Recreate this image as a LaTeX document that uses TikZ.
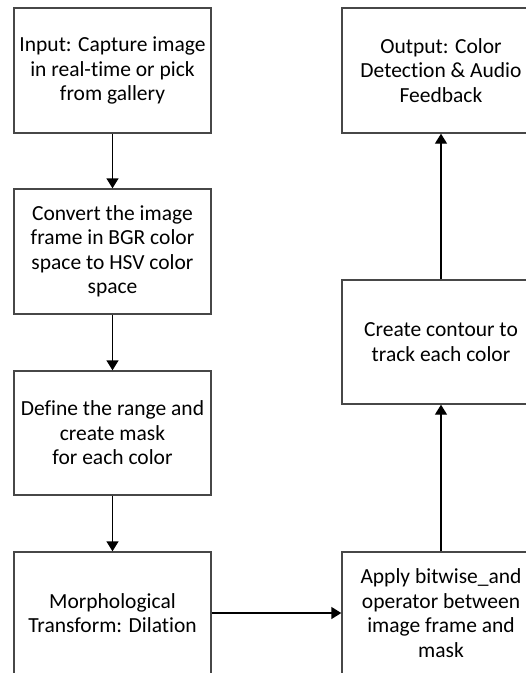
\documentclass[tikz,border=0pt]{standalone}
\usepackage{fontspec}
\setmainfont[Ligatures=NoCommon]{Carlito}
\usetikzlibrary{arrows.meta}
\begin{document}
\begin{tikzpicture}[x=1pt,y=-1pt,
  stepbox/.style={draw=black!72, line width=1.4pt, rectangle,
    minimum width=197pt, minimum height=125pt, inner sep=0pt,
    align=center, text=black,
    font=\fontsize{21.5pt}{24.5pt}\selectfont},
  flow/.style={line width=1.4pt, -{Triangle[width=12pt,length=10pt]}}]
  \useasboundingbox (0,0) rectangle (526,673);
  \clip (0,0) rectangle (526,673);

  % left column
  \node[stepbox] (input) at (112.5,70.5) {Input: Capture image\\in real-time or pick\\from gallery};
  \node[stepbox] (convert) at (112.5,251.5) {Convert the image\\frame in BGR color\\space to HSV color\\space};
  \node[stepbox, minimum height=124pt] (range) at (112.5,433) {Define the range and\\create mask\\for each color};
  \node[stepbox, minimum height=122pt] (morph) at (112.5,613) {Morphological\\Transform: Dilation};

  % right column
  \node[stepbox, minimum width=198pt] (output) at (441,70.5) {Output: Color\\Detection \& Audio\\Feedback};
  \node[stepbox, minimum width=198pt, minimum height=124pt] (contour) at (441,342) {Create contour to\\track each color};
  \node[stepbox, minimum width=198pt, minimum height=122pt] (bitwise) at (441,613) {Apply bitwise\_and\\operator between\\image frame and\\mask};

  % connectors
  \draw[flow] (input) -- (convert);
  \draw[flow] (convert) -- (range);
  \draw[flow] (range) -- (morph);
  \draw[flow] (morph) -- (bitwise);
  \draw[flow] (bitwise) -- (contour);
  \draw[flow] (contour) -- (output);
\end{tikzpicture}
\end{document}
